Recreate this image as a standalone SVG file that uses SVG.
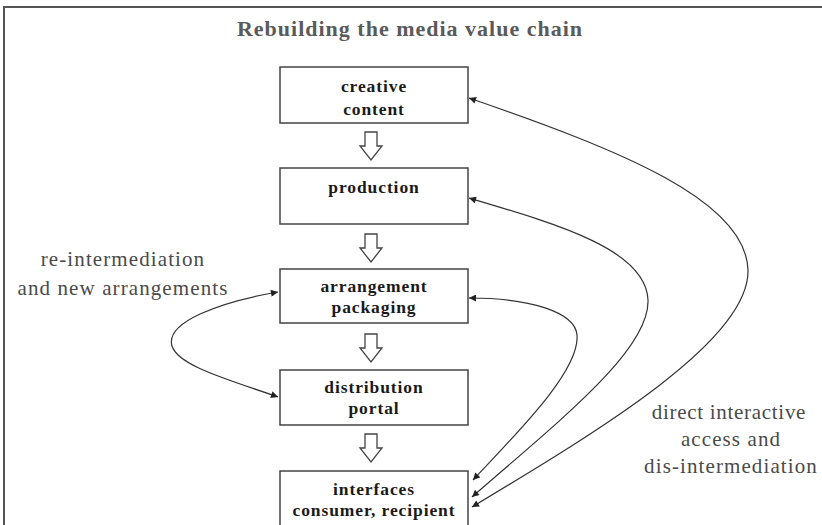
<svg xmlns="http://www.w3.org/2000/svg" width="822" height="525" viewBox="0 0 822 525">
<defs>
<style>
.frame{fill:none;stroke:#555;stroke-width:2}
.box rect{fill:#fff;stroke:#444;stroke-width:1.5}
.box text{font-family:"Liberation Serif","Times New Roman",serif;font-weight:bold;font-size:17.5px;letter-spacing:0.9px;fill:#1a1a1a;text-anchor:middle}
.flow{fill:#fff;stroke:#444;stroke-width:1.3}
.conn{fill:none;stroke:#333;stroke-width:1.2;marker-start:url(#ah);marker-end:url(#ah)}
.lbl{font-family:"Liberation Serif","Times New Roman",serif;font-size:21px;letter-spacing:1.1px;fill:#4a4a4a;text-anchor:middle}
.title{font-family:"Liberation Serif","Times New Roman",serif;font-weight:bold;font-size:22px;letter-spacing:1px;fill:#5a5a5a;text-anchor:middle}
</style>
<marker id="ah" viewBox="0 0 10 10" refX="10" refY="5" markerWidth="8" markerHeight="7" markerUnits="userSpaceOnUse" orient="auto-start-reverse">
<path d="M0,0 L10,5 L0,10 z" fill="#222"/>
</marker>
<path id="blk" d="M-6,0 H6 V14 H11 L0,28 L-11,14 H-6 Z"/>
</defs>
<path class="frame" d="M4,525 V7 H822"/>
<text class="title" x="410" y="36">Rebuilding the media value chain</text>
<g id="node-creative" class="box">
<rect x="280" y="67" width="188" height="56"/>
<text x="374" y="92">creative</text>
<text x="374" y="115">content</text>
</g>
<g id="node-production" class="box">
<rect x="280" y="168" width="188" height="56"/>
<text x="374" y="193">production</text>
</g>
<g id="node-arrangement" class="box">
<rect x="280" y="269" width="188" height="54"/>
<text x="374" y="292">arrangement</text>
<text x="374" y="313">packaging</text>
</g>
<g id="node-distribution" class="box">
<rect x="280" y="370" width="188" height="55"/>
<text x="374" y="393">distribution</text>
<text x="374" y="414">portal</text>
</g>
<g id="node-interfaces" class="box">
<rect x="280" y="471" width="188" height="62"/>
<text x="374" y="495">interfaces</text>
<text x="374" y="516">consumer, recipient</text>
</g>
<g id="flow-arrows">
<use href="#blk" class="flow" x="371" y="132"/>
<use href="#blk" class="flow" x="371" y="234"/>
<use href="#blk" class="flow" x="371" y="334"/>
<use href="#blk" class="flow" x="371" y="434"/>
</g>
<g id="connectors">
<path class="conn" d="M278,292 C220,302 165,322 172,346 C178,366 230,380 278,397"/>
<path class="conn" d="M473,480 C520,430 580,370 577,335 C575,312 530,298 469,298"/>
<path class="conn" d="M472,497 C560,420 650,350 648,300 C646,250 560,225 469,198"/>
<path class="conn" d="M472,507 C600,430 750,340 748,270 C746,200 620,150 469,98"/>
</g>
<g id="labels">
<text class="lbl" x="123" y="266">re-intermediation</text>
<text class="lbl" x="123" y="295">and new arrangements</text>
<text class="lbl" x="729" y="419" style="letter-spacing:0.7px">direct interactive</text>
<text class="lbl" x="731" y="446">access and</text>
<text class="lbl" x="731" y="473">dis-intermediation</text>
</g>
</svg>
